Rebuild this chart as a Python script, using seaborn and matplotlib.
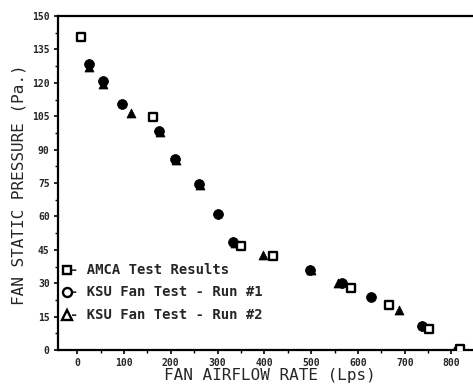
import matplotlib
matplotlib.use("Agg")
import matplotlib.pyplot as plt
import seaborn as sns
import pandas as pd
from matplotlib.ticker import MultipleLocator

sns.set_theme(style="white")
plt.rcParams['font.family'] = ['DejaVu Sans Mono', 'DejaVu Sans']

amca_x = [9, 163, 351, 419, 586, 667, 753, 819]
amca_y = [140.5, 104.5, 46.5, 42, 28, 20, 9.5, 0.5]
run1_x = [26, 56, 96, 175, 210, 261, 302, 334, 498, 567, 627, 736, 813]
run1_y = [128.5, 121, 110.5, 98.5, 86, 74.5, 61, 48.5, 36, 30, 24, 11, 0]
run2_x = [26, 56, 115, 177, 211, 263, 338, 398, 500, 558, 687, 817]
run2_y = [127, 119.5, 106.5, 98, 85.5, 74, 48, 42.5, 36, 30, 18, 0.5]

labels = ["AMCA Test Results", "KSU Fan Test - Run #1", "KSU Fan Test - Run #2"]
x_ticks = [0, 100, 200, 300, 400, 500, 600, 700, 800]
y_ticks = [0, 15, 30, 45, 60, 75, 90, 105, 120, 135, 150]

df = pd.concat([
    pd.DataFrame({"x": amca_x, "y": amca_y, "s": labels[0]}),
    pd.DataFrame({"x": run1_x, "y": run1_y, "s": labels[1]}),
    pd.DataFrame({"x": run2_x, "y": run2_y, "s": labels[2]}),
])

fig = plt.figure(figsize=(4.73, 3.9), dpi=100)
ax = fig.add_axes([58/473, 1 - 350/390, (473 - 58)/473, (350 - 16)/390])

sns.scatterplot(data=df[df.s == labels[1]], x="x", y="y", marker="o", s=50,
                color="black", edgecolor="black", ax=ax, zorder=2)
sns.scatterplot(data=df[df.s == labels[2]], x="x", y="y", marker="^", s=42,
                color="black", edgecolor="black", ax=ax, zorder=2)
sns.scatterplot(data=df[df.s == labels[0]], x="x", y="y", marker="s", s=26,
                facecolor="white", edgecolor="black", linewidth=1.7, ax=ax, zorder=3)

ax.set_xlim(-41, 846)
ax.set_ylim(0, 150)
ax.set_xticks(x_ticks)
ax.set_yticks(y_ticks)
ax.xaxis.set_minor_locator(MultipleLocator(50))
ax.yaxis.set_minor_locator(MultipleLocator(7.5))
ax.tick_params(axis="both", which="major", direction="out", length=3, width=1.2,
               labelsize=7, color="black", pad=3, bottom=True, left=True)
ax.tick_params(axis="both", which="minor", direction="out", length=2, width=1,
               color="black", bottom=True, left=True)
for lbl in ax.get_xticklabels() + ax.get_yticklabels():
    lbl.set_fontweight("bold")
ax.set_xlabel("FAN AIRFLOW RATE (Lps)", fontsize=11.5)
ax.set_ylabel("FAN STATIC PRESSURE (Pa.)", fontsize=11.5)
ax.xaxis.set_label_coords(0.51, -0.055)
ax.yaxis.set_label_coords(-0.077, 0.494)

for side in ["left", "bottom", "top"]:
    ax.spines[side].set_visible(True)
    ax.spines[side].set_color("black")
    ax.spines[side].set_linewidth(1.6)
ax.spines["right"].set_visible(False)

# legend drawn inside the plot as marker + text rows
leg_y = [36, 26, 15.7]
leg_m = ["s", "o", "^"]
leg_ms = [6, 6.5, 6.5]
for yy, m, ms, lab in zip(leg_y, leg_m, leg_ms, labels):
    ax.plot([-21], [yy], marker=m, ms=ms, mfc="white", mec="black", mew=1.7,
            clip_on=False, zorder=4)
    ax.text(-15.5, yy, "- " + lab, fontsize=10, va="center", ha="left", fontweight="bold")

fig.savefig("out.png", dpi=100)
